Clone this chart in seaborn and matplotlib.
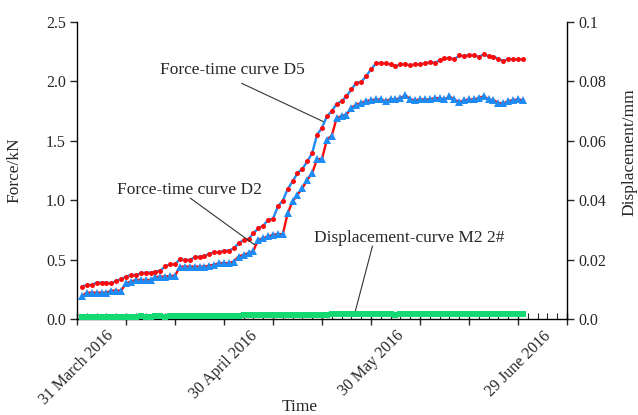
import numpy as np
import pandas as pd
import matplotlib
matplotlib.use("Agg")
import matplotlib.pyplot as plt
import matplotlib.dates as mdates
import matplotlib.ticker as mticker
import seaborn as sns

# Daily readings, 1 April 2016 .. 30 June 2016
dates = pd.date_range("2016-04-01", periods=91, freq="D")

force_d5 = [
    0.273, 0.287, 0.287, 0.307, 0.307, 0.307, 0.301, 0.321, 0.335, 0.357,
    0.371, 0.371, 0.385, 0.391, 0.391, 0.399, 0.408, 0.442, 0.461, 0.461,
    0.503, 0.498, 0.498, 0.520, 0.526, 0.531, 0.548, 0.562, 0.562, 0.576,
    0.576, 0.596, 0.638, 0.666, 0.672, 0.723, 0.762, 0.785, 0.835, 0.844,
    0.948, 0.996, 1.094, 1.159, 1.229, 1.263, 1.327, 1.398, 1.552, 1.609,
    1.707, 1.749, 1.811, 1.834, 1.876, 1.932, 1.988, 1.994, 2.044, 2.101,
    2.151, 2.157, 2.151, 2.143, 2.128, 2.143, 2.148, 2.134, 2.143, 2.146,
    2.151, 2.163, 2.157, 2.177, 2.193, 2.199, 2.185, 2.219, 2.213, 2.222,
    2.219, 2.208, 2.227, 2.213, 2.208, 2.191, 2.171, 2.191, 2.185, 2.185,
    2.185,
]

force_d2 = [
    0.194, 0.222, 0.222, 0.222, 0.222, 0.222, 0.239, 0.239, 0.239, 0.301,
    0.315, 0.329, 0.329, 0.329, 0.329, 0.352, 0.357, 0.357, 0.363, 0.363,
    0.441, 0.441, 0.441, 0.441, 0.441, 0.441, 0.450, 0.456, 0.470, 0.470,
    0.470, 0.484, 0.526, 0.540, 0.554, 0.576, 0.666, 0.681, 0.695, 0.709,
    0.714, 0.714, 0.891, 0.990, 1.046, 1.102, 1.173, 1.229, 1.347, 1.347,
    1.510, 1.544, 1.693, 1.707, 1.721, 1.777, 1.805, 1.819, 1.834, 1.842,
    1.848, 1.848, 1.834, 1.851, 1.848, 1.859, 1.884, 1.848, 1.842, 1.848,
    1.848, 1.848, 1.859, 1.859, 1.848, 1.873, 1.848, 1.825, 1.842, 1.848,
    1.848, 1.859, 1.876, 1.848, 1.842, 1.819, 1.814, 1.834, 1.842, 1.848,
    1.842,
]

disp_m2 = [
    0.0007, 0.0008, 0.0007, 0.0008, 0.0008, 0.0007, 0.0008, 0.0008, 0.0008, 0.0008,
    0.0008, 0.0008, 0.0009, 0.0008, 0.0008, 0.0009, 0.0009, 0.0008, 0.0009, 0.0009,
    0.0009, 0.0009, 0.0010, 0.0009, 0.0010, 0.0010, 0.0010, 0.0010, 0.0011, 0.0011,
    0.0011, 0.0011, 0.0011, 0.0012, 0.0012, 0.0012, 0.0012, 0.0013, 0.0012, 0.0013,
    0.0013, 0.0013, 0.0014, 0.0014, 0.0014, 0.0014, 0.0015, 0.0015, 0.0015, 0.0015,
    0.0015, 0.0016, 0.0016, 0.0016, 0.0016, 0.0016, 0.0016, 0.0016, 0.0016, 0.0016,
    0.0016, 0.0016, 0.0016, 0.0016, 0.0015, 0.0016, 0.0016, 0.0016, 0.0016, 0.0016,
    0.0016, 0.0016, 0.0016, 0.0016, 0.0016, 0.0016, 0.0016, 0.0016, 0.0016, 0.0016,
    0.0016, 0.0016, 0.0016, 0.0016, 0.0016, 0.0016, 0.0016, 0.0016, 0.0016, 0.0016,
    0.0016,
]

date_labels = ["31 March 2016", "30 April 2016", "30 May 2016", "29 June 2016"]
left_ticks = [0.0, 0.5, 1.0, 1.5, 2.0, 2.5]
right_ticks = [0.0, 0.02, 0.04, 0.06, 0.08, 0.1]
right_tick_labels = ["0.0", "0.02", "0.04", "0.06", "0.08", "0.1"]

df = pd.DataFrame({"date": dates, "D5": force_d5, "D2": force_d2, "M2": disp_m2})

sns.set_style("ticks")
plt.rcParams["font.family"] = ["Liberation Serif", "DejaVu Serif"]
plt.rcParams["font.size"] = 11

BLUE = "#1E8CF5"
RED = "#FF0A0A"
GREEN = "#14D872"

fig = plt.figure(figsize=(6.38, 4.15), dpi=100)
ax = fig.add_axes([0.1207, 0.2313, 0.768, 0.7157])
ax2 = ax.twinx()

# Force-time curve D5: red dots joined by a blue line
sns.lineplot(data=df, x="date", y="D5", ax=ax, color=BLUE, lw=1.7,
             marker="o", markersize=3.6, markerfacecolor=RED,
             markeredgecolor=RED, markeredgewidth=0, zorder=3)
# Force-time curve D2: blue triangles joined by a red line
sns.lineplot(data=df, x="date", y="D2", ax=ax, color=RED, lw=1.7,
             marker="^", markersize=5.2, markerfacecolor=BLUE,
             markeredgecolor=BLUE, markeredgewidth=0, zorder=2)
# Displacement curve M2 2# on the secondary axis
sns.lineplot(data=df, x="date", y="M2", ax=ax2, color=GREEN, lw=2.2,
             marker="s", markersize=3.8, markerfacecolor=GREEN,
             markeredgecolor=GREEN, markeredgewidth=0, clip_on=False, zorder=2)

start = pd.Timestamp("2016-03-31")
end = pd.Timestamp("2016-07-09")
ax.set_xlim(start, end)
ax.set_ylim(0, 2.5)
ax2.set_ylim(0, 0.1)

major = pd.date_range(start, end, freq="10D")
ax.set_xticks(major)
label_dates = set(pd.to_datetime(date_labels, format="%d %B %Y"))
ax.set_xticklabels([f"{d.day} {d.strftime('%B')} {d.year}" if d in label_dates else ""
                    for d in major], rotation=45, ha="center", va="top")
ax.xaxis.set_minor_locator(mdates.DayLocator(interval=2))

ax.set_yticks(left_ticks)
ax.yaxis.set_major_formatter(mticker.FormatStrFormatter("%.1f"))
ax2.set_yticks(right_ticks)
ax2.set_yticklabels(right_tick_labels)

ax.set_xlabel("Time", fontsize=12.5)
ax.set_ylabel("Force/kN", fontsize=12.5)
ax2.set_ylabel("Displacement/mm", fontsize=12.5)
ax.xaxis.set_label_coords(0.455, -0.27)
ax.yaxis.set_label_coords(-0.112, 0.5)
ax2.yaxis.set_label_coords(1.112, 0.56)

for a in (ax, ax2):
    a.spines["top"].set_visible(False)
    for s in a.spines.values():
        s.set_color("black")
        s.set_linewidth(1.0)
ax.spines["right"].set_visible(False)
ax2.spines["left"].set_visible(False)
ax2.spines["bottom"].set_visible(False)

ax.tick_params(axis="y", direction="out", length=5, width=1, labelsize=11.5, pad=3)
ax2.tick_params(axis="y", direction="out", length=5, width=1, labelsize=11.5, pad=3)
ax.tick_params(axis="x", which="major", direction="inout", length=9, width=1,
               labelsize=11.5, pad=2)
ax.tick_params(axis="x", which="minor", direction="in", length=4, width=0.8)

# Curve labels with leader lines
day = lambda n: start + pd.Timedelta(days=n)
leader = dict(arrowstyle="-", color="#333333", lw=0.8, shrinkA=0, shrinkB=0)
ax.text(day(31.7), 2.096, "Force-time curve D5", ha="center", va="center", fontsize=12.5)
ax.annotate("", xy=(day(50.3), 1.661), xytext=(day(33.6), 1.984), arrowprops=leader)
ax.text(day(22.9), 1.086, "Force-time curve D2", ha="center", va="center", fontsize=12.5)
ax.annotate("", xy=(day(36.3), 0.623), xytext=(day(23.1), 1.018), arrowprops=leader)
ax.text(day(67.8), 0.682, "Displacement-curve M2 2#", ha="center", va="center", fontsize=12.5)
ax.annotate("", xy=(day(56.7), 0.05), xytext=(day(60.3), 0.614), arrowprops=leader)

fig.savefig("out.png", dpi=100)
